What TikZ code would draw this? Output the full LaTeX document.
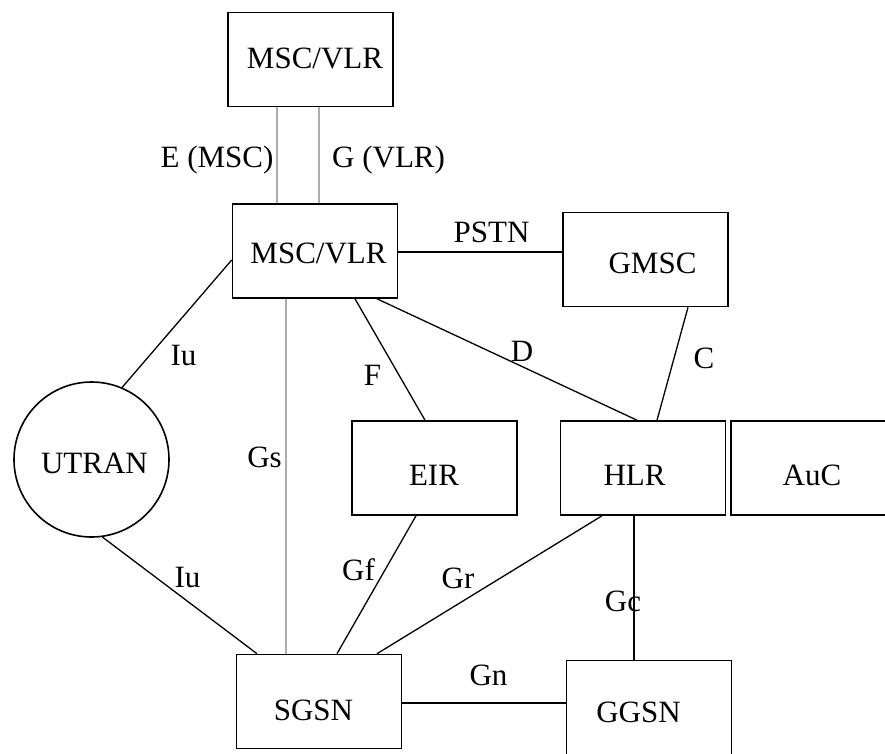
\documentclass[tikz,border=0pt]{standalone}
\usepackage{fontspec}
\setmainfont{Liberation Serif}
\begin{document}
\begin{tikzpicture}[x=1pt,y=-1pt,
  boxn/.style={draw, line width=1.6pt, inner sep=0pt, minimum width=165pt, minimum height=94pt},
  circn/.style={circle, draw, line width=1.6pt, inner sep=0pt, minimum size=155pt},
  txt/.style={font=\fontsize{31}{36}\selectfont, inner sep=0pt, anchor=base},
  conn/.style={line width=1.3pt},
  gconn/.style={line width=2.6pt, draw=gray!65}]
\useasboundingbox (0,0) rectangle (885,753);
\clip (0,0) rectangle (885,753);

% boxes
\node[boxn] (msc1) at (310.5,59.5) {};
\node[boxn] (msc2) at (315,251) {};
\node[boxn] (gmsc) at (645.5,259.5) {};
\node[circn] (utran) at (91.5,459.5) {};
\node[boxn] (eir) at (434.5,468) {};
\node[boxn] (hlr) at (643,468) {};
\node[boxn] (auc) at (813.5,468) {};
\node[boxn] (sgsn) at (319,701.5) {};
\node[boxn] (ggsn) at (649,707.5) {};

% box texts
\node[txt] (msc1t) at (315,68) {MSC/VLR};
\node[txt] (msc2t) at (318.5,263) {MSC/VLR};
\node[txt] (gmsct) at (652.5,273) {GMSC};
\node[txt] (utrant) at (94.5,473) {UTRAN};
\node[txt] (eirt) at (434,485) {EIR};
\node[txt] (hlrt) at (634.5,485) {HLR};
\node[txt] (auct) at (812,485) {AuC};
\node[txt] (sgsnt) at (313.5,720) {SGSN};
\node[txt] (ggsnt) at (638.5,722) {GGSN};

% connectors
\draw[gconn] (msc1.south -| 277,0) -- (msc2.north -| 277,0);
\draw[gconn] (msc1.south -| 319,0) -- (msc2.north -| 319,0);
\draw[gconn] (msc2.south -| 286,0) -- (sgsn.north -| 286,0);
\draw[conn] (msc2.east |- 0,252) -- (gmsc.west |- 0,252);
\draw[conn] (utran.67) -- (msc2.west |- 0,260);
\draw[conn] (utran.-82) -- (sgsn.north -| 257,0);
\draw[conn] (msc2.south -| 355,0) -- (eir.north -| 425,0);
\draw[conn] (msc2.south -| 377,0) -- (hlr.north -| 637,0);
\draw[conn] (gmsc.south -| 688,0) -- (hlr.north -| 657,0);
\draw[conn] (eir.south -| 416,0) -- (sgsn.north -| 337,0);
\draw[conn] (hlr.south -| 602,0) -- (sgsn.north -| 377,0);
\draw[conn] (hlr.south -| 634,0) -- (ggsn.north -| 634,0);
\draw[conn] (sgsn.east |- 0,703) -- (ggsn.west |- 0,703);

% labels
\node[txt] (lE) at (217,167) {E (MSC)};
\node[txt, anchor=base west] (lG) at (332,167) {G (VLR)};
\node[txt] (lPSTN) at (491.5,242) {PSTN};
\node[txt] (lIu1) at (183.5,365) {Iu};
\node[txt] (lF) at (372.5,385) {F};
\node[txt] (lD) at (522,361) {D};
\node[txt] (lC) at (704,368) {C};
\node[txt] (lGs) at (264.5,467) {Gs};
\node[txt] (lIu2) at (187.5,587) {Iu};
\node[txt] (lGf) at (358.5,580) {Gf};
\node[txt] (lGr) at (458,588) {Gr};
\node[txt] (lGc) at (623,611) {Gc};
\node[txt] (lGn) at (488.5,685) {Gn};
\end{tikzpicture}
\end{document}
